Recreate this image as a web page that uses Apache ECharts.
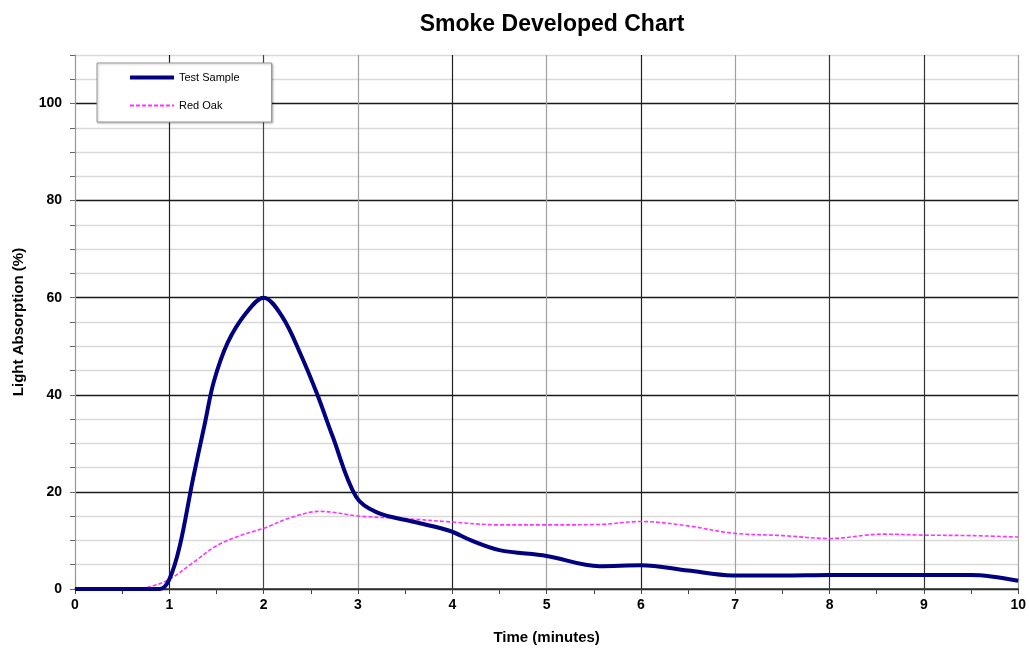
<!DOCTYPE html>
<html>
<head>
<meta charset="utf-8">
<script src="https://cdn.jsdelivr.net/npm/echarts@6/dist/echarts.min.js"></script>
<style>html,body{margin:0;padding:0;background:#fff}#c{width:1029px;height:650px}</style>
</head>
<body>
<div id="c"></div>
<script>
const titleText = 'Smoke Developed Chart';
const xName = 'Time (minutes)';
const yName = 'Light Absorption (%)';
const seriesNames = ['Test Sample', 'Red Oak'];

const sampleTime = [0, 0.5, 0.9, 1.0, 1.11, 1.25, 1.38, 1.47, 1.62, 1.82, 2.0, 2.2, 2.4, 2.57, 2.73, 2.98, 3.2, 3.6, 3.97, 4.2, 4.5, 5.0, 5.56, 6.0, 6.5, 6.97, 7.5, 8.0, 8.5, 9.0, 9.5, 10.0];
const sampleValue = [0, 0, 0, 2, 8.8, 22.6, 34.4, 42.6, 50.8, 57, 60, 56, 48, 40, 31.5, 19, 15.8, 13.8, 12, 10, 8, 6.8, 4.7, 4.9, 3.8, 2.8, 2.8, 2.9, 2.9, 2.9, 2.9, 1.7];

const oakTime = [0, 0.6, 0.8, 1.0, 1.25, 1.5, 1.75, 2.0, 2.3, 2.6, 3.02, 3.5, 4.0, 4.5, 5.0, 5.56, 6.0, 6.5, 6.97, 7.5, 8.0, 8.56, 9.0, 9.5, 10.0];
const oakValue = [0, 0, 0.5, 2, 5.4, 8.9, 11, 12.5, 14.8, 16, 15, 14.5, 13.8, 13.2, 13.2, 13.3, 13.9, 13.0, 11.5, 11.0, 10.4, 11.3, 11.1, 11.0, 10.7];

const xTicks = [0,1,2,3,4,5,6,7,8,9,10];
const yLabelValues = [0,20,40,60,80,100];

const chart = echarts.init(document.getElementById('c'));
const F = 'Liberation Sans, Arial, sans-serif';

const hColors = [];
for (let v = 0; v <= 110; v += 5) hColors.push(v % 20 === 0 ? '#1a1a1a' : '#d9d9d9');
const vColors = ['#888','#222','#444','#a0a0a0','#222','#a0a0a0','#222','#a0a0a0','#333','#333','#a0a0a0'];

chart.setOption({
  animation: false,
  backgroundColor: '#fff',
  title: {
    text: titleText, left: 547, top: 8, textAlign: 'center',
    textStyle: { fontFamily: F, fontSize: 23, fontWeight: 'bold', color: '#000' }
  },
  legend: {
    left: 97, top: 63, orient: 'vertical',
    padding: [9, 32, 11, 31], itemGap: 17, itemWidth: 44, itemHeight: 10,
    backgroundColor: '#fff', borderColor: '#999', borderWidth: 1,
    shadowColor: 'rgba(0,0,0,0.25)', shadowBlur: 2, shadowOffsetX: 1, shadowOffsetY: 1,
    itemStyle: { opacity: 0 },
    textStyle: { fontFamily: F, fontSize: 11, color: '#000' },
    data: [
      { name: seriesNames[0], lineStyle: { width: 4, color: '#000080' } },
      { name: seriesNames[1], lineStyle: { width: 1.8, color: '#ff33ff', type: [4, 2] } }
    ]
  },
  grid: { left: 75, right: 10, top: 55, bottom: 59, containLabel: false },
  xAxis: {
    type: 'value', min: 0, max: 10, interval: 1,
    name: xName, nameLocation: 'middle', nameGap: 41,
    nameTextStyle: { fontFamily: F, fontSize: 15, fontWeight: 'bold', color: '#000' },
    axisLine: { show: true, lineStyle: { color: '#333', width: 1.5 } },
    axisTick: { show: true, length: 5, lineStyle: { color: '#444' } },
    minorTick: { show: true, splitNumber: 2, length: 5, lineStyle: { color: '#444' } },
    axisLabel: { fontFamily: F, fontSize: 14, fontWeight: 'bold', color: '#000', margin: 9,
      formatter: v => xTicks.includes(v) ? String(v) : '' },
    splitLine: { show: true, lineStyle: { color: vColors, width: 1.2 } }
  },
  yAxis: {
    type: 'value', min: 0, max: 110, interval: 5,
    name: yName, nameLocation: 'middle', nameGap: 49, nameRotate: 90,
    nameTextStyle: { fontFamily: F, fontSize: 15, fontWeight: 'bold', color: '#000' },
    axisLine: { show: true, lineStyle: { color: '#999', width: 1 } },
    axisTick: { show: true, length: 5, lineStyle: { color: '#666' } },
    axisLabel: { fontFamily: F, fontSize: 14, fontWeight: 'bold', color: '#000', margin: 13,
      formatter: v => yLabelValues.includes(v) ? String(v) : '' },
    splitLine: { show: true, lineStyle: { color: hColors, width: 1.3 } }
  },
  series: [
    {
      name: seriesNames[0], type: 'line', smooth: 0.35, showSymbol: false, symbol: 'none',
      data: sampleTime.map((t, i) => [t, sampleValue[i]]),
      lineStyle: { color: '#000080', width: 4 }, itemStyle: { color: '#000080' }, z: 3
    },
    {
      name: seriesNames[1], type: 'line', smooth: 0.35, showSymbol: false, symbol: 'none',
      data: oakTime.map((t, i) => [t, oakValue[i]]),
      lineStyle: { color: '#ff33ff', width: 1.6, type: [4, 2] }, itemStyle: { color: '#ff33ff' }, z: 2
    }
  ]
});
</script>
</body>
</html>
